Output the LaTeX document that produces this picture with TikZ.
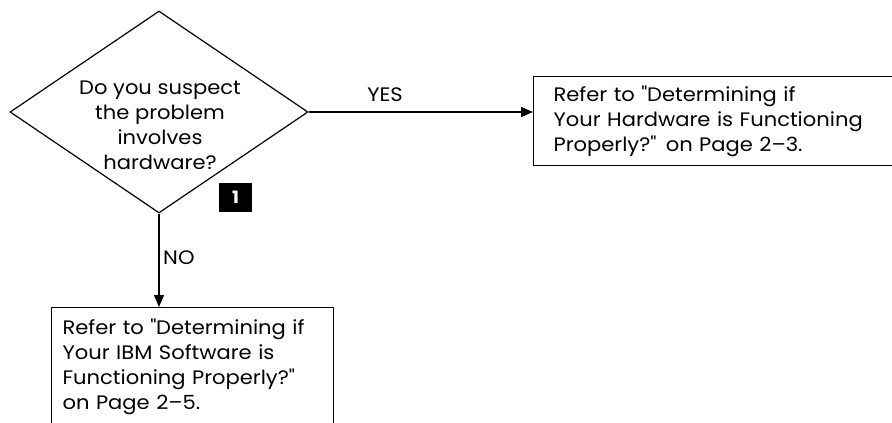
\documentclass[tikz,border=0pt]{standalone}
\usepackage{fontspec}
\setmainfont[FakeStretch=1.08]{Poppins}
\usetikzlibrary{arrows.meta,shapes.geometric}

\newcommand{\dq}{\textquotedbl}
\newcommand{\flowfont}{\fontsize{19.5}{25}\selectfont}

\tikzset{
  flowline/.style={line width=1.2pt},
  flowarrow/.style={flowline,-{Triangle[length=12pt,width=10pt]}},
  decision/.style={draw,flowline,diamond,inner sep=0pt,
    minimum width=298pt,minimum height=202pt},
  qtext/.style={align=center,inner sep=0pt,font=\flowfont},
  refbox/.style={draw,flowline,rectangle,align=left,inner ysep=0pt,
    font=\flowfont},
  branchlabel/.style={inner sep=0pt,font=\flowfont},
  badge/.style={fill=black,text=white,minimum width=33pt,minimum height=29pt,
    inner sep=0pt,font=\fontsize{17}{17}\selectfont\bfseries},
}

\begin{document}
\begin{tikzpicture}[x=1pt,y=-1pt]
  \useasboundingbox (0,0) rectangle (892,423);
  \fill[white] (0,0) rectangle (892,423);
  \clip (0,0) rectangle (892,423);

  % decision
  \node[decision] (q) at (159,112) {};
  \node[qtext] (qt) at (160,125) {Do you suspect\\the problem\\involves\\hardware?};
  \node[badge] (b1) at (235.5,197.5) {1};

  % outcome boxes
  \node[refbox,anchor=north west,text width=340pt,inner xsep=20pt,
        minimum width=380pt,minimum height=89pt] (hw) at (533,76)
    {Refer to \dq Determining if\\Your Hardware is Functioning\\Properly?\dq{} on Page 2--3.};
  \node[refbox,anchor=north west,text width=260pt,inner xsep=11pt,
        minimum width=282pt,minimum height=119pt] (sw) at (51,307)
    {\mbox{Refer to \dq Determining if}\\\mbox{Your IBM Software is}\\\mbox{Functioning Properly?\dq}\\\mbox{on Page 2--5.}};

  % connectors
  \draw[flowarrow] (q.east) -- (q.east -| hw.west);
  \draw[flowarrow] (q.south) -- (q.south |- sw.north);
  \node[branchlabel] (yes) at (385,95) {YES};
  \node[branchlabel,anchor=west] (no) at (163,258) {NO};
\end{tikzpicture}
\end{document}
